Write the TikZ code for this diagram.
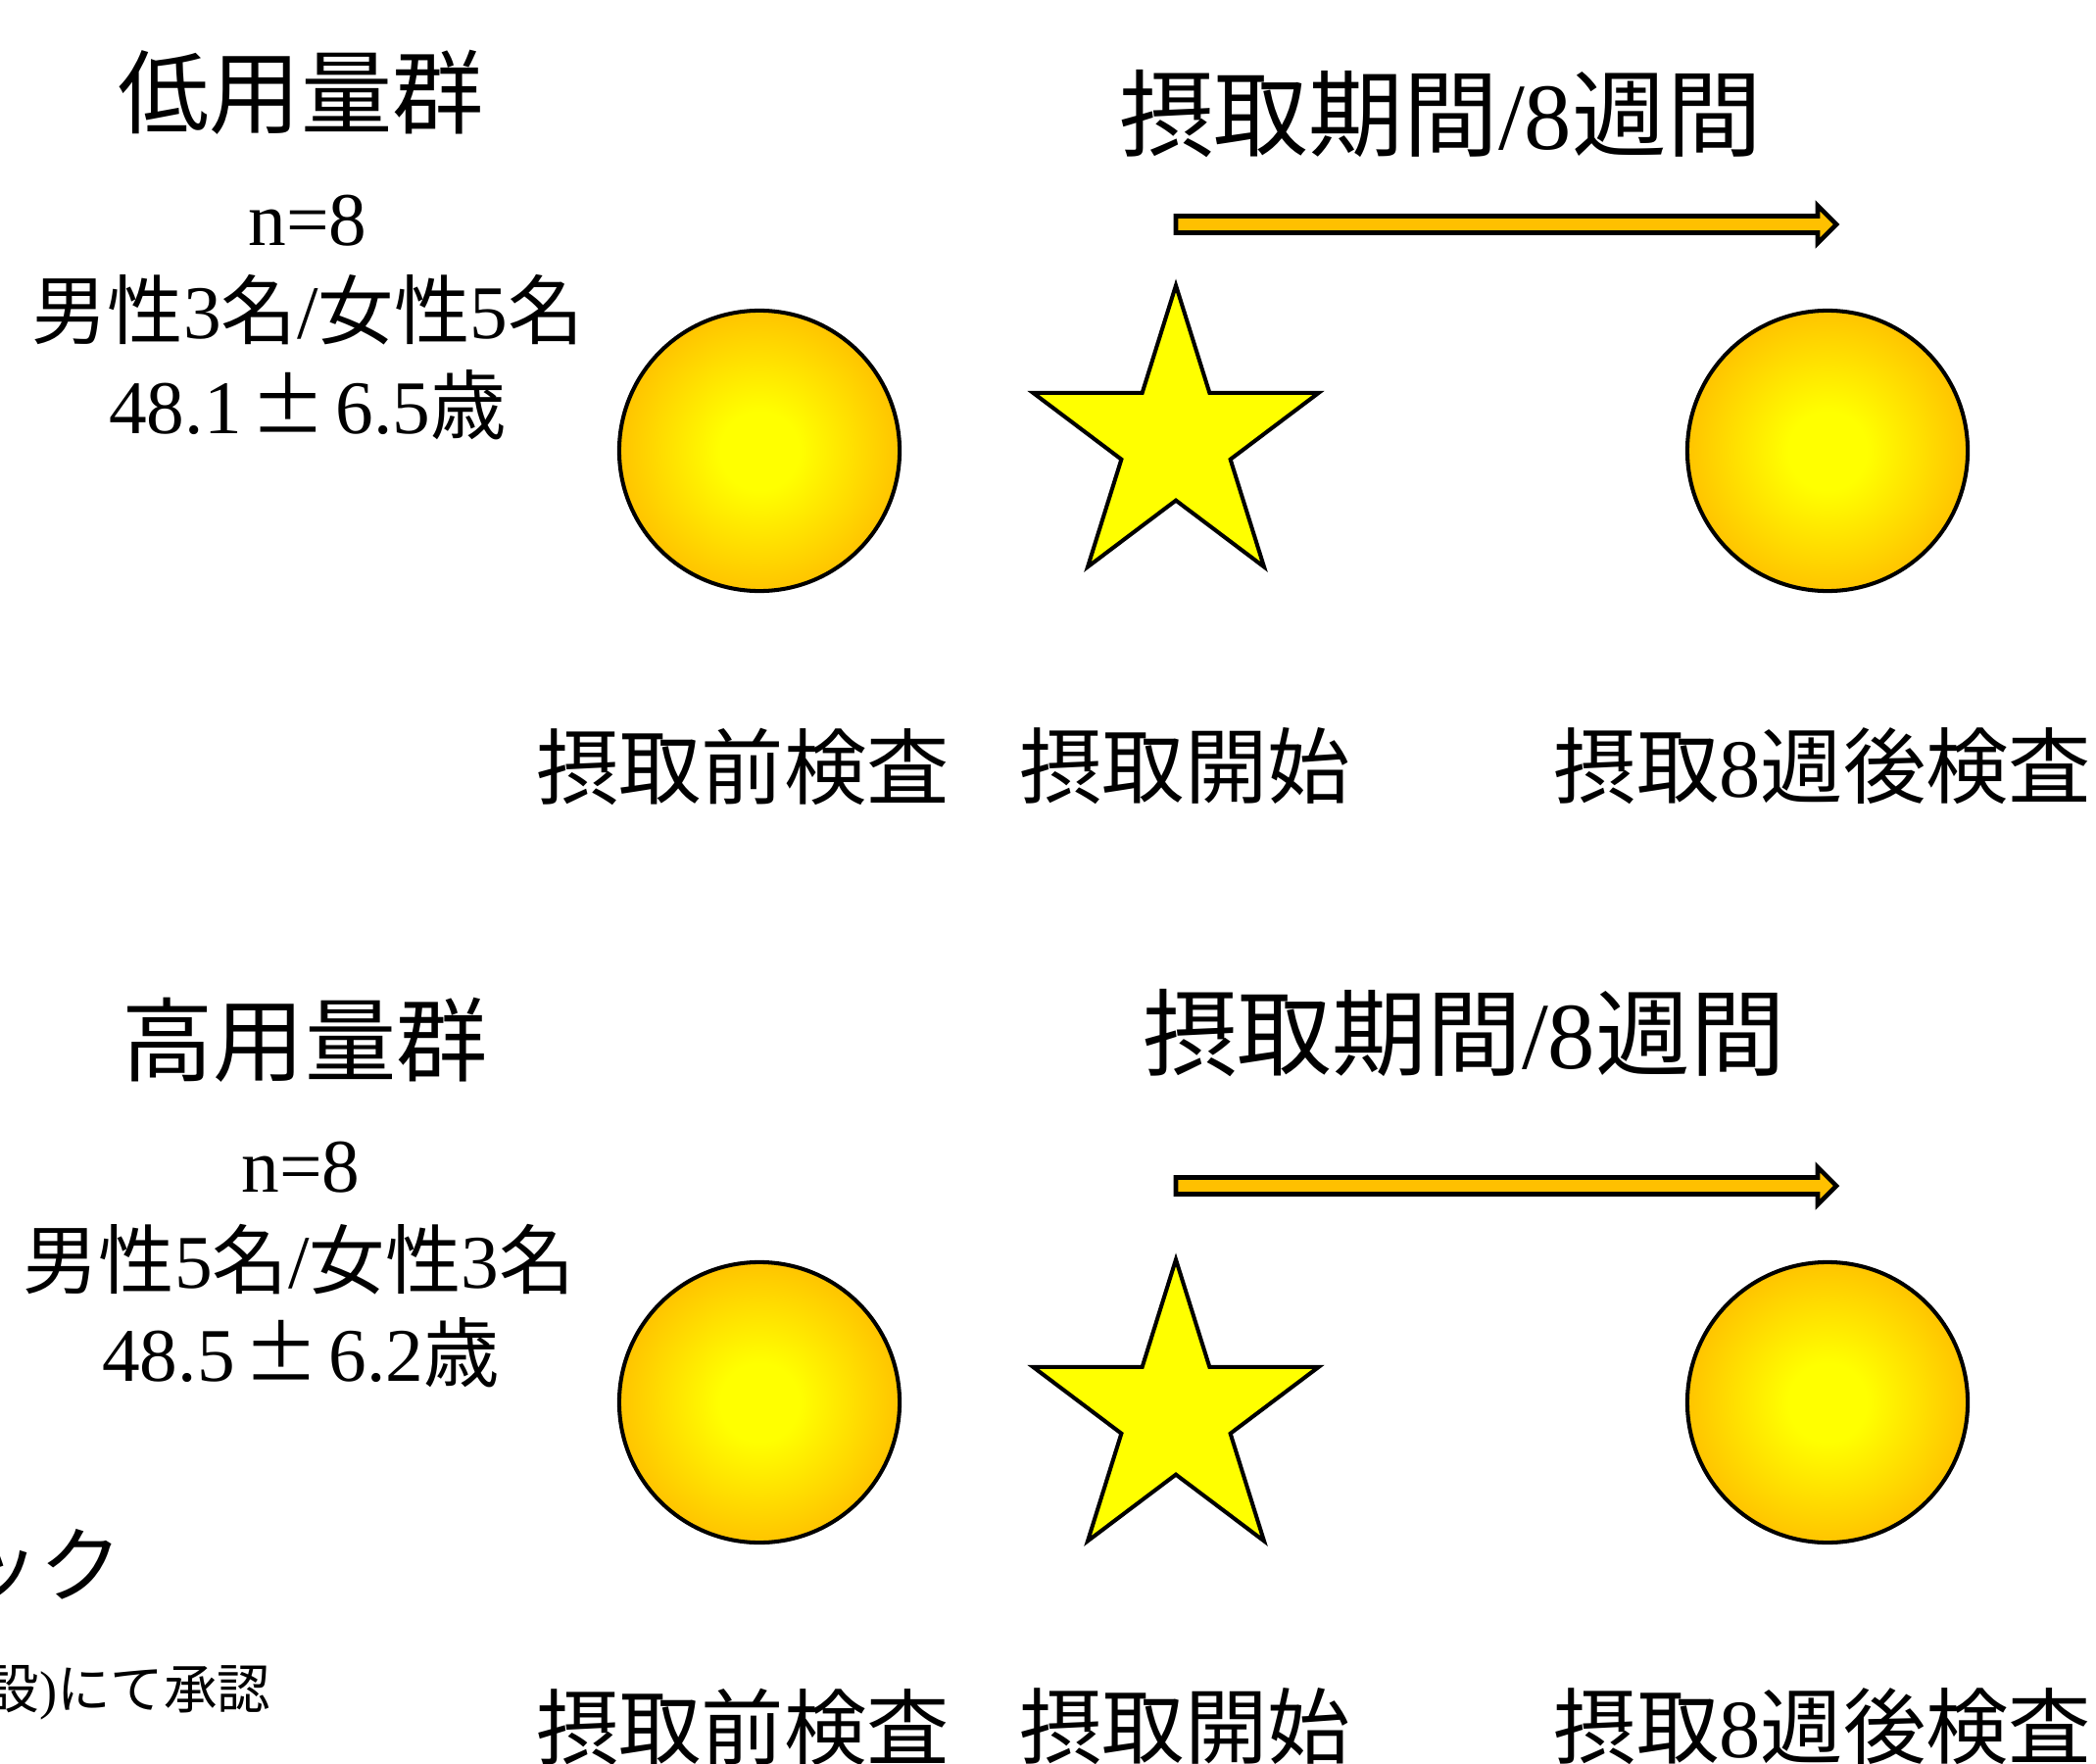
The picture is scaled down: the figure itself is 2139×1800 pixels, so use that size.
\documentclass[tikz,border=0pt]{standalone}
\usepackage{fontspec}
\setmainfont{Liberation Serif}
\newfontfamily\jp{Noto Sans CJK JP}
\usetikzlibrary{shapes.geometric}
\definecolor{ballout}{RGB}{255,196,0}
\definecolor{ballin}{RGB}{255,255,0}
\definecolor{arrowfill}{RGB}{255,192,0}
\definecolor{starfill}{RGB}{255,255,0}
\pgfdeclareradialshading{ballshade}{\pgfpoint{0bp}{0bp}}{color(0bp)=(ballin); color(7bp)=(ballin); color(25bp)=(ballout); color(50bp)=(ballout)}
\newcommand{\J}[1]{{\jp #1}}
\newcommand{\PM}{\hspace{0.12em}{\jp ±}\hspace{0.12em}}
\begin{document}
\begin{tikzpicture}[x=0.01cm,y=-0.01cm,
  ball/.style={circle, draw=black, line width=1.15pt, shading=ballshade, minimum size=2.86cm, inner sep=0pt},
  starshape/.style={star, star points=5, star point ratio=2.618, draw=black, line width=1.15pt, fill=starfill, minimum size=3.06cm, inner sep=0pt, shape border rotate=0},
  period/.style={fill=arrowfill, draw=black, line width=1.3pt, line join=miter},
  title/.style={inner sep=0pt, font=\fontsize{26.5pt}{30pt}\selectfont},
  info/.style={inner sep=0pt, font=\fontsize{22pt}{26pt}\selectfont},
  ptext/.style={inner sep=0pt, font=\fontsize{27.5pt}{32pt}\selectfont},
  lbl/.style={inner sep=0pt, font=\fontsize{24pt}{28pt}\selectfont},
  note/.style={inner sep=0pt, font=\fontsize{15.5pt}{18pt}\selectfont}
]
\useasboundingbox (0,0) rectangle (2139,1800);
\clip (0,0) rectangle (2139,1800);
\fill[white] (0,0) rectangle (2139,1800);

% ---------- top group ----------
\node[title] (t1) at (307,94) {\J{低用量群}};
\node[info] (n1) at (314,225) {n=8};
\node[info] (s1) at (314,316) {\J{男性}3\J{名}/\J{女性}5\J{名}};
\node[info] (a1) at (314,413) {48.1\PM6.5\J{歳}};
\node[ptext] (p1) at (1470,116) {\J{摂取期間}/8\J{週間}};
\draw[period] (1200,220.5) -- (1855,220.5) -- (1855,210) -- (1874,229) -- (1855,248) -- (1855,237.5) -- (1200,237.5) -- cycle;
\node[ball] (pre1) at (775,460) {};
\begin{scope}[shift={(1200,450)}, yscale=1.037]
  \node[starshape, transform shape] (st1) at (0,0) {};
\end{scope}
\node[ball] (post1) at (1865,460) {};
\node[lbl] (lp1) at (758,782) {\J{摂取前検査}};
\node[lbl] (ls1) at (1209,782) {\J{摂取開始}};
\node[lbl, anchor=west] (lq1) at (1585,782) {\J{摂取}8\J{週後検査}};

% ---------- bottom group ----------
\node[title] (t2) at (311,1061) {\J{高用量群}};
\node[info] (n2) at (307,1191) {n=8};
\node[info] (s2) at (305,1285) {\J{男性}5\J{名}/\J{女性}3\J{名}};
\node[info] (a2) at (307,1380) {48.5\PM6.2\J{歳}};
\node[ptext] (p2) at (1494,1054) {\J{摂取期間}/8\J{週間}};
\draw[period] (1200,1201.5) -- (1855,1201.5) -- (1855,1191) -- (1874,1210) -- (1855,1229) -- (1855,1218.5) -- (1200,1218.5) -- cycle;
\node[ball] (pre2) at (775,1431) {};
\begin{scope}[shift={(1200,1444)}, yscale=1.037]
  \node[starshape, transform shape] (st2) at (0,0) {};
\end{scope}
\node[ball] (post2) at (1865,1431) {};
\node[lbl] (lp2) at (758,1762) {\J{摂取前検査}};
\node[lbl] (ls2) at (1209,1762) {\J{摂取開始}};
\node[lbl, anchor=west] (lq2) at (1585,1762) {\J{摂取}8\J{週後検査}};

% ---------- clipped notes at the left ----------
\node[lbl, anchor=east] (c1) at (126,1598) {\J{ック}};
\node[note, anchor=east] (c2) at (277,1727) {\J{設})\J{にて承認}};
\end{tikzpicture}
\end{document}
